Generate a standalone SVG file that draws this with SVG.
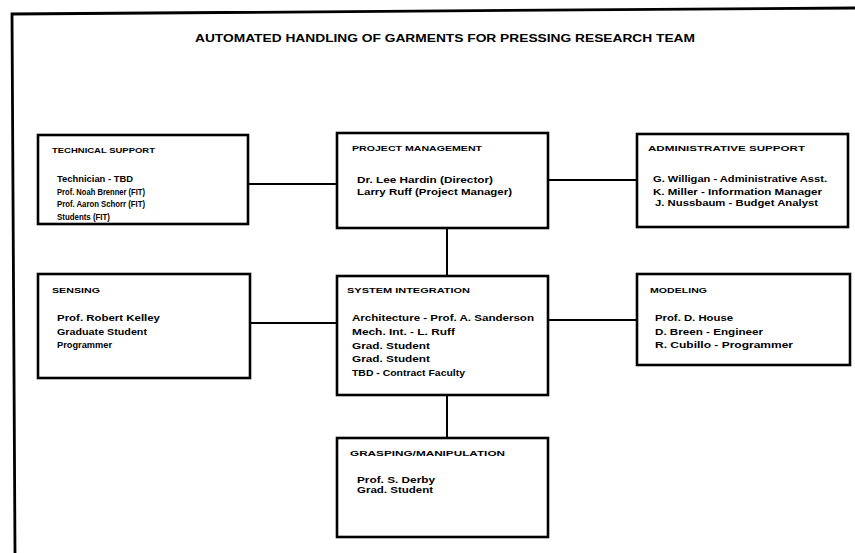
<svg xmlns="http://www.w3.org/2000/svg" width="855" height="553" viewBox="0 0 855 553">
<style>
.box{fill:#fff;stroke:#000;stroke-width:2.6}
.ln{stroke:#000;stroke-width:2;fill:none}
text{font-family:"Liberation Sans",Arial,sans-serif;font-weight:bold;fill:#000}
.h{font-size:7.5px}
.t{font-size:8.5px}
</style>
<rect width="855" height="553" fill="#fff"/>
<path d="M15,553 L12,14 L855,8" fill="none" stroke="#000" stroke-width="2.8"/>
<text x="195" y="42" font-size="10" textLength="500" lengthAdjust="spacingAndGlyphs">AUTOMATED HANDLING OF GARMENTS FOR PRESSING RESEARCH TEAM</text>
<g id="connectors">
<line class="ln" x1="248" y1="184" x2="337" y2="184"/>
<line class="ln" x1="548" y1="180" x2="637" y2="180"/>
<line class="ln" x1="250" y1="323" x2="337" y2="323"/>
<line class="ln" x1="548" y1="320" x2="637" y2="320"/>
<line class="ln" x1="447" y1="228" x2="447" y2="276"/>
<line class="ln" x1="447" y1="395" x2="447" y2="438"/>
</g>
<g id="technical-support">
<rect class="box" x="38" y="135" width="210" height="89"/>
<text class="h" x="52" y="153" textLength="103" lengthAdjust="spacingAndGlyphs">TECHNICAL SUPPORT</text>
<text class="t" x="57" y="182" textLength="76" lengthAdjust="spacingAndGlyphs">Technician - TBD</text>
<text class="t" x="57" y="195" textLength="88" lengthAdjust="spacingAndGlyphs">Prof. Noah Brenner (FIT)</text>
<text class="t" x="57" y="207" textLength="88" lengthAdjust="spacingAndGlyphs">Prof. Aaron Schorr (FIT)</text>
<text class="t" x="57" y="220" textLength="53" lengthAdjust="spacingAndGlyphs">Students (FIT)</text>
</g>
<g id="project-management">
<rect class="box" x="337" y="133" width="211" height="95"/>
<text class="h" x="352" y="151" textLength="130" lengthAdjust="spacingAndGlyphs">PROJECT MANAGEMENT</text>
<text class="t" x="357" y="183" textLength="136" lengthAdjust="spacingAndGlyphs">Dr. Lee Hardin (Director)</text>
<text class="t" x="357" y="195" textLength="155" lengthAdjust="spacingAndGlyphs">Larry Ruff (Project Manager)</text>
</g>
<g id="administrative-support">
<rect class="box" x="637" y="134" width="211" height="93"/>
<text class="h" x="648" y="151" textLength="157" lengthAdjust="spacingAndGlyphs">ADMINISTRATIVE SUPPORT</text>
<text class="t" x="653" y="182" textLength="174" lengthAdjust="spacingAndGlyphs">G. Willigan - Administrative Asst.</text>
<text class="t" x="653" y="195" textLength="169" lengthAdjust="spacingAndGlyphs">K. Miller - Information Manager</text>
<text class="t" x="655" y="206" textLength="163" lengthAdjust="spacingAndGlyphs">J. Nussbaum - Budget Analyst</text>
</g>
<g id="sensing">
<rect class="box" x="38" y="274" width="212" height="104"/>
<text class="h" x="52" y="293" textLength="48" lengthAdjust="spacingAndGlyphs">SENSING</text>
<text class="t" x="57" y="321" textLength="103" lengthAdjust="spacingAndGlyphs">Prof. Robert Kelley</text>
<text class="t" x="57" y="335" textLength="90" lengthAdjust="spacingAndGlyphs">Graduate Student</text>
<text class="t" x="57" y="348" textLength="55" lengthAdjust="spacingAndGlyphs">Programmer</text>
</g>
<g id="system-integration">
<rect class="box" x="337" y="276" width="211" height="119"/>
<text class="h" x="347" y="293" textLength="123" lengthAdjust="spacingAndGlyphs">SYSTEM INTEGRATION</text>
<text class="t" x="352" y="321" textLength="182" lengthAdjust="spacingAndGlyphs">Architecture - Prof. A. Sanderson</text>
<text class="t" x="352" y="335" textLength="103" lengthAdjust="spacingAndGlyphs">Mech. Int. - L. Ruff</text>
<text class="t" x="352" y="349" textLength="78" lengthAdjust="spacingAndGlyphs">Grad. Student</text>
<text class="t" x="352" y="362" textLength="78" lengthAdjust="spacingAndGlyphs">Grad. Student</text>
<text class="t" x="352" y="376" textLength="113" lengthAdjust="spacingAndGlyphs">TBD - Contract Faculty</text>
</g>
<g id="modeling">
<rect class="box" x="637" y="274" width="213" height="91"/>
<text class="h" x="650" y="293" textLength="57" lengthAdjust="spacingAndGlyphs">MODELING</text>
<text class="t" x="655" y="321" textLength="78" lengthAdjust="spacingAndGlyphs">Prof. D. House</text>
<text class="t" x="655" y="335" textLength="108" lengthAdjust="spacingAndGlyphs">D. Breen - Engineer</text>
<text class="t" x="655" y="348" textLength="138" lengthAdjust="spacingAndGlyphs">R. Cubillo - Programmer</text>
</g>
<g id="grasping-manipulation">
<rect class="box" x="337" y="438" width="211" height="99"/>
<text class="h" x="350" y="456" textLength="155" lengthAdjust="spacingAndGlyphs">GRASPING/MANIPULATION</text>
<text class="t" x="357" y="483" textLength="78" lengthAdjust="spacingAndGlyphs">Prof. S. Derby</text>
<text class="t" x="357" y="493" textLength="76" lengthAdjust="spacingAndGlyphs">Grad. Student</text>
</g>
</svg>
